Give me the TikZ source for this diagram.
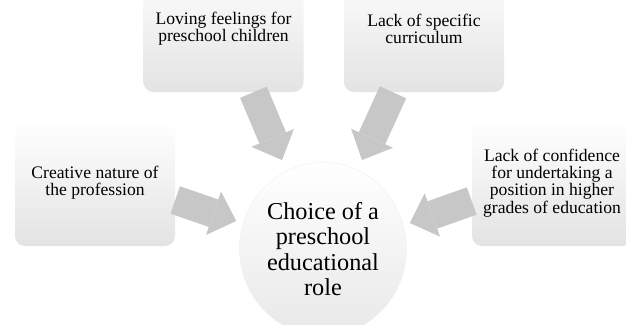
\documentclass[tikz,border=0pt]{standalone}
\usepackage{fontspec}
\setmainfont{Liberation Serif}
\usetikzlibrary{shapes,arrows.meta}

\begin{document}
\begin{tikzpicture}[x=0.75pt,y=-0.75pt,
        reason/.style={rectangle,rounded corners=7.5pt,minimum width=120pt,minimum height=94.5pt,
          top color=white,bottom color=black!11,align=center,font=\fontsize{13.2}{12.9}\selectfont},
        fat/.style={line width=21.75pt,draw=black!22,-{Triangle[length=18pt,width=34.5pt,line width=0pt]}}]
        \useasboundingbox (0,0) rectangle (626,325);

        \node [reason] (loving) at (223.5, 29) {Loving feelings for\\preschool children};
        \node [reason] (curriculum) at (424, 29) {Lack of specific\\curriculum};
        \node [reason] (creative) at (95, 183) {Creative nature of\\the profession};
        \node [reason] (confidence) at (552, 183) {Lack of confidence\\for undertaking a\\position in higher\\grades of education};
        \node [ellipse,minimum width=125.25pt,minimum height=130pt,inner sep=0pt,draw=black!5,
          top color=white,bottom color=black!9,align=center,font=\fontsize{18.2}{19}\selectfont]
          (choice) at (323, 249) {Choice of a\\preschool\\educational\\role};

        \draw[fat] ([shift={(30,0)}]loving.south) -- ([shift={(-41,-2)}]choice.north);
        \draw[fat] ([shift={(-31,0)}]curriculum.south) -- ([shift={(39,-2)}]choice.north);
        \draw[fat] ([shift={(0,17)}]creative.east) -- ([shift={(-3,-28)}]choice.west);
        \draw[fat] ([shift={(0,18)}]confidence.west) -- ([shift={(3,-26)}]choice.east);
      \end{tikzpicture}
\end{document}
